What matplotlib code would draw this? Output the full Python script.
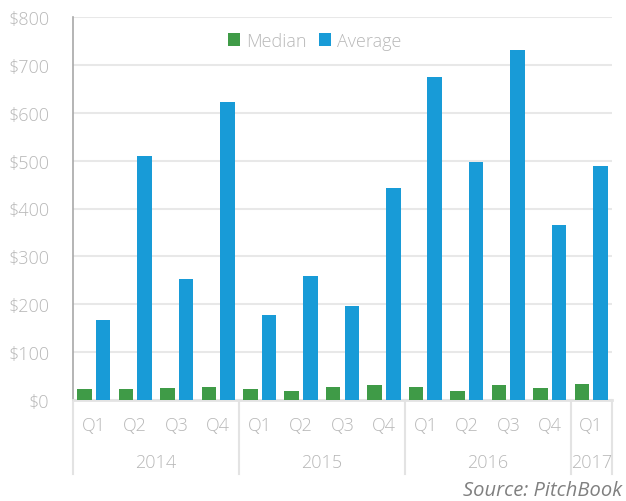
import numpy as np
import matplotlib
matplotlib.use("Agg")
import matplotlib.pyplot as plt
from matplotlib.transforms import blended_transform_factory

plt.rcParams['font.family'] = ['Open Sans', 'DejaVu Sans']

quarters = ["Q1", "Q2", "Q3", "Q4", "Q1", "Q2", "Q3", "Q4", "Q1", "Q2", "Q3", "Q4", "Q1"]
years = ["2014", "2015", "2016", "2017"]
year_counts = [4, 4, 4, 1]
median = [22, 22, 25, 28, 22, 19, 28, 31, 28, 19, 31, 25, 33]
average = [168, 510, 253, 623, 178, 259, 197, 443, 675, 498, 731, 366, 489]

green = "#3f9b47"
blue = "#189bd7"
txt = "#b8b8b8"

fig = plt.figure(figsize=(6.26, 5.02), dpi=100)
ax = fig.add_axes([73 / 626, 1 - 401 / 502, (612 - 73) / 626, (401 - 18) / 502])

x = np.arange(len(quarters))
w = 0.35
ax.bar(x - 0.225, median, width=w, color=green, label="Median", zorder=3)
ax.bar(x + 0.225, average, width=w, color=blue, label="Average", zorder=3)

ax.set_xlim(-0.5, len(quarters) - 0.5)
ax.set_ylim(0, 800)
ax.set_yticks(range(0, 801, 100))
ax.set_yticklabels(["$%d" % v for v in range(0, 801, 100)])
ax.yaxis.grid(True, color="#e8e8e8", lw=1.5, zorder=0)
ax.set_axisbelow(True)
ax.tick_params(axis="y", length=0, pad=17, labelsize=13, labelcolor=txt)
ax.set_xticks([])

for s in ["top", "right"]:
    ax.spines[s].set_visible(False)
ax.spines["left"].set_color("#a8a8a8")
ax.spines["left"].set_linewidth(1.2)
ax.spines["bottom"].set_color("#e3e3e3")
ax.spines["bottom"].set_linewidth(2)
for lab in ax.get_yticklabels():
    lab.set_fontweight("light")

trans = blended_transform_factory(ax.transData, ax.transAxes)
for i, q in enumerate(quarters):
    ax.text(i, -0.066, q, transform=trans, ha="center", va="center",
            fontsize=13, color=txt, fontweight="light")

edges = np.concatenate([[0], np.cumsum(year_counts)]) - 0.5
for e in edges:
    ax.plot([e, e], [0, -0.193], transform=trans, color="#e3e3e3", lw=1.5, clip_on=False)
for k, yr in enumerate(years):
    mid = (edges[k] + edges[k + 1]) / 2
    ax.text(mid, -0.162, yr, transform=trans, ha="center", va="center",
            fontsize=13, color=txt, fontweight="light")

leg = ax.legend(loc="upper center", bbox_to_anchor=(0.448, 1.003), ncol=2, frameon=False,
                fontsize=13, handlelength=0.7, handleheight=0.7, handletextpad=0.3,
                columnspacing=0.7)
for t in leg.get_texts():
    t.set_color(txt)
    t.set_fontweight("light")

fig.text(622 / 626, 1 - 491 / 502, "Source: PitchBook", ha="right", va="center",
         fontsize=14.5, color="#808080", style="italic")

fig.savefig("out.png", dpi=100)
